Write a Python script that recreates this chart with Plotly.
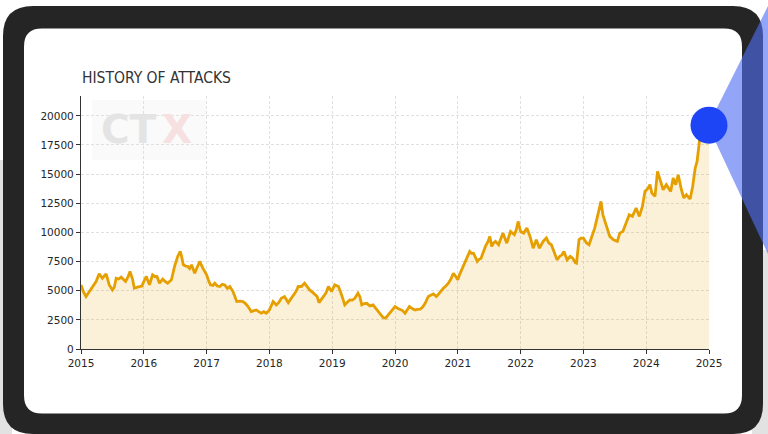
import plotly.graph_objects as go

# ---------------- data ----------------
years = [
    2015.00, 2015.04, 2015.08, 2015.12, 2015.16, 2015.20, 2015.24, 2015.29, 2015.34, 2015.40,
    2015.45, 2015.50, 2015.53, 2015.56, 2015.60, 2015.64, 2015.71, 2015.75, 2015.78, 2015.82,
    2015.85, 2015.90, 2015.93, 2015.97, 2016.00, 2016.04, 2016.09, 2016.14, 2016.18, 2016.21,
    2016.25, 2016.30, 2016.34, 2016.38, 2016.44, 2016.49, 2016.54, 2016.58, 2016.60, 2016.63,
    2016.67, 2016.70, 2016.73, 2016.76, 2016.81, 2016.85, 2016.89, 2016.94, 2017.00, 2017.03,
    2017.06, 2017.10, 2017.13, 2017.17, 2017.21, 2017.25, 2017.29, 2017.33, 2017.37, 2017.42,
    2017.45, 2017.48, 2017.53, 2017.58, 2017.62, 2017.66, 2017.71, 2017.75, 2017.79, 2017.83,
    2017.87, 2017.91, 2017.95, 2018.00, 2018.03, 2018.06, 2018.11, 2018.15, 2018.19, 2018.24,
    2018.30, 2018.34, 2018.38, 2018.42, 2018.46, 2018.51, 2018.56, 2018.60, 2018.64, 2018.68,
    2018.72, 2018.76, 2018.79, 2018.83, 2018.86, 2018.90, 2018.94, 2018.99, 2019.04, 2019.10,
    2019.15, 2019.20, 2019.24, 2019.28, 2019.32, 2019.36, 2019.41, 2019.44, 2019.47, 2019.51,
    2019.55, 2019.60, 2019.65, 2019.69, 2019.73, 2019.77, 2019.81, 2019.85, 2019.89, 2019.94,
    2020.00, 2020.04, 2020.08, 2020.12, 2020.16, 2020.20, 2020.23, 2020.28, 2020.32, 2020.36,
    2020.40, 2020.44, 2020.48, 2020.53, 2020.57, 2020.61, 2020.66, 2020.72, 2020.77, 2020.81,
    2020.85, 2020.89, 2020.93, 2020.97, 2021.00, 2021.03, 2021.06, 2021.12, 2021.15, 2021.19,
    2021.22, 2021.25, 2021.31, 2021.34, 2021.37, 2021.40, 2021.44, 2021.48, 2021.51, 2021.54,
    2021.57, 2021.60, 2021.65, 2021.68, 2021.72, 2021.75, 2021.78, 2021.81, 2021.84, 2021.90,
    2021.93, 2021.96, 2022.00, 2022.05, 2022.10, 2022.15, 2022.20, 2022.25, 2022.30, 2022.36,
    2022.41, 2022.45, 2022.49, 2022.54, 2022.58, 2022.62, 2022.66, 2022.69, 2022.74, 2022.79,
    2022.83, 2022.87, 2022.89, 2022.93, 2022.96, 2023.00, 2023.05, 2023.09, 2023.13, 2023.18,
    2023.23, 2023.28, 2023.31, 2023.34, 2023.37, 2023.42, 2023.48, 2023.54, 2023.58, 2023.63,
    2023.68, 2023.73, 2023.78, 2023.84, 2023.89, 2023.94, 2023.98, 2024.03, 2024.06, 2024.09,
    2024.14, 2024.18, 2024.23, 2024.27, 2024.32, 2024.36, 2024.39, 2024.43, 2024.47, 2024.51,
    2024.56, 2024.60, 2024.64, 2024.70, 2024.74, 2024.78, 2024.81, 2024.85, 2024.90, 2025.00,
]
attacks = [
    5500, 4900, 4500, 4800, 5200, 5400, 5790, 6450, 6070, 6450,
    5500, 5070, 5300, 6070, 6000, 6160, 5790, 6200, 6650, 6000,
    5210, 5300, 5360, 5400, 5790, 6220, 5500, 6360, 6200, 6220,
    5640, 5990, 5800, 5640, 5930, 7080, 7940, 8370, 8000, 7220,
    7100, 7080, 6900, 7220, 6500, 7000, 7510, 6930, 6360, 5900,
    5500, 5450, 5640, 5400, 5360, 5550, 5500, 5200, 5360, 4930,
    4500, 4070, 4100, 4070, 3900, 3640, 3210, 3300, 3350, 3200,
    3070, 3200, 3070, 3350, 3800, 4070, 3780, 4000, 4350, 4500,
    3980, 4300, 4640, 4900, 5360, 5360, 5640, 5300, 5070, 4900,
    4730, 4500, 3980, 4300, 4500, 4800, 5360, 4930, 5500, 5360,
    4640, 3780, 4000, 4210, 4200, 4350, 4780, 4500, 3780, 3900,
    3920, 3700, 3780, 3500, 3210, 3000, 2700, 2650, 2920, 3300,
    3640, 3500, 3410, 3300, 3070, 3400, 3640, 3450, 3350, 3400,
    3410, 3600, 3920, 4500, 4600, 4730, 4500, 4930, 5210, 5400,
    5640, 6000, 6500, 6200, 5930, 6400, 6790, 7510, 8000, 8370,
    8200, 8220, 7510, 7700, 7790, 8300, 8800, 9200, 9650, 8800,
    9100, 9230, 8940, 9400, 9940, 9500, 9080, 9600, 10080, 9800,
    10200, 10940, 10080, 9940, 10370, 9650, 8650, 9370, 8650, 9230,
    9520, 9090, 8940, 8230, 7650, 7940, 8080, 8370, 7650, 7940,
    7790, 7400, 7360, 9370, 9510, 9510, 9090, 8940, 9660, 10370,
    11510, 12660, 11510, 11000, 10510, 9660, 9370, 9230, 9940, 10090,
    10800, 11510, 11370, 12090, 11370, 12230, 13510, 13800, 14100, 13370,
    13090, 15230, 14370, 13660, 14090, 13800, 13510, 14660, 14090, 14940,
    13660, 12950, 13230, 12860, 13940, 15510, 16090, 17940, 18900, 19200,
]
year_ticks = [2015, 2016, 2017, 2018, 2019, 2020, 2021, 2022, 2023, 2024, 2025]
value_ticks = [0, 2500, 5000, 7500, 10000, 12500, 15000, 17500, 20000]
title_text = "HISTORY OF ATTACKS"

# ---------------- canvas helpers ----------------
W, H = 768, 434


def px(x):
    return x / W


def py(y):
    return 1 - y / H


def rrect(x0, y0, x1, y1, r):
    pts = [
        ("M", (x0 + r, y0)), ("L", (x1 - r, y0)),
        ("Q", (x1, y0), (x1, y0 + r)), ("L", (x1, y1 - r)),
        ("Q", (x1, y1), (x1 - r, y1)), ("L", (x0 + r, y1)),
        ("Q", (x0, y1), (x0, y1 - r)), ("L", (x0, y0 + r)),
        ("Q", (x0, y0), (x0 + r, y0)),
    ]
    s = ""
    for p in pts:
        s += p[0] + " " + " ".join(f"{px(a):.5f},{py(b):.5f}" for a, b in p[1:]) + " "
    return s + "Z"


def poly(points):
    s = "M " + " L ".join(f"{px(a):.5f},{py(b):.5f}" for a, b in points)
    return s + " Z"


fig = go.Figure()

# area + line
fig.add_trace(go.Scatter(
    x=years, y=attacks, mode="lines",
    line=dict(color="#E69F00", width=2.8),
    fill="tozeroy", fillcolor="rgba(230,159,0,0.15)",
    hoverinfo="skip", showlegend=False,
))
# end point marker
fig.add_trace(go.Scatter(
    x=[years[-1]], y=[attacks[-1]], mode="markers",
    marker=dict(color="#1D45F5", size=37, line=dict(width=0)),
    cliponaxis=False, hoverinfo="skip", showlegend=False,
))

shapes = [
    # background stripes behind frame
    dict(type="rect", xref="paper", yref="paper", x0=px(0), x1=px(12), y0=py(434), y1=py(160),
         fillcolor="#e2e2e2", line_width=0, layer="below"),
    dict(type="rect", xref="paper", yref="paper", x0=px(752), x1=px(768), y0=py(434), y1=py(250),
         fillcolor="#e2e2e2", line_width=0, layer="below"),
    # device frame
    dict(type="path", xref="paper", yref="paper", path=rrect(3, 6, 763, 434, 30),
         fillcolor="#252525", line_width=0, layer="below"),
    dict(type="path", xref="paper", yref="paper", path=rrect(24, 28.5, 742, 413.5, 18),
         fillcolor="#ffffff", line_width=0, layer="below"),
    # faint watermark box
    dict(type="rect", xref="paper", yref="paper", x0=px(92), x1=px(206), y0=py(160), y1=py(100),
         fillcolor="#fafafa", line_width=0, layer="below"),
    # blue beam
    dict(type="path", xref="paper", yref="paper",
         path=poly([(708, 125.7), (768, 6), (768, 254)]),
         fillcolor="rgba(80,110,240,0.62)", line_width=0, layer="below"),
]

annotations = [
    dict(text=title_text, xref="paper", yref="paper", x=px(80), y=py(77.5),
         xanchor="left", yanchor="middle", showarrow=False,
         font=dict(family="DejaVu Sans Condensed, DejaVu Sans", size=15.5, color="#333333")),
    dict(text="<b>CT</b>", xref="paper", yref="paper", x=px(158), y=py(130),
         xanchor="right", yanchor="middle", showarrow=False, borderpad=0,
         font=dict(family="DejaVu Sans", size=39, color="#e4e4e4")),
    dict(text="<b>X</b>", xref="paper", yref="paper", x=px(161), y=py(130),
         xanchor="left", yanchor="middle", showarrow=False, borderpad=0,
         font=dict(family="DejaVu Sans", size=39, color="#f7e0e0")),
]

axis_common = dict(
    tickmode="array", tickformat="d",
    showgrid=True, gridcolor="#e0e0e0", griddash="3px,2px", gridwidth=0.8,
    showline=True, linecolor="#333333", linewidth=1.2,
    ticks="outside", ticklen=4, tickcolor="#333333", zeroline=False,
    automargin=False,
)

fig.update_layout(
    width=W, height=H, autosize=False,
    margin=dict(l=0, r=0, t=0, b=0, pad=0, autoexpand=False),
    paper_bgcolor="#ffffff", plot_bgcolor="rgba(0,0,0,0)",
    shapes=shapes, annotations=annotations,
    font=dict(family="DejaVu Sans", size=10.5, color="#262626"),
    xaxis=dict(domain=[px(81), px(709)], range=[2015, 2025], tickvals=year_ticks, **axis_common),
    yaxis=dict(domain=[py(349), py(96)], range=[0, 21700], tickvals=value_ticks, **axis_common),
)

fig.write_html("out.html")
